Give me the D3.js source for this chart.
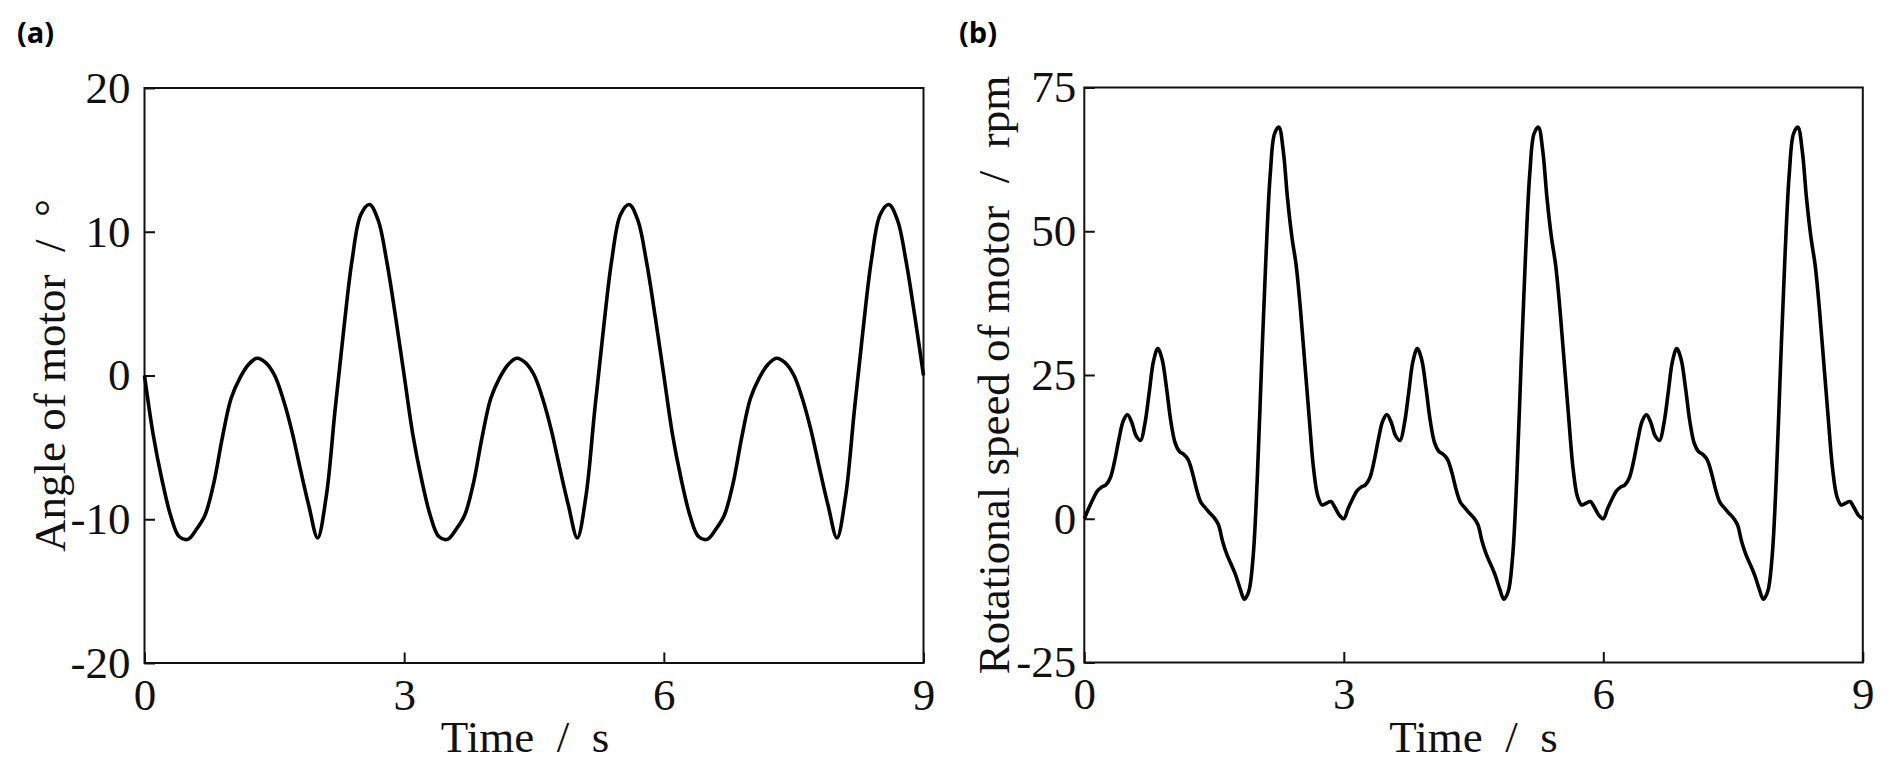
<!DOCTYPE html>
<html>
<head>
<meta charset="utf-8">
<script src="https://cdn.jsdelivr.net/npm/d3@7"></script>
<style>
  body { margin: 0; background: #fff; }
  text { font-family: "Liberation Serif", "Times New Roman", serif; }
</style>
</head>
<body>
<div id="root"></div>
<script>
// sample times (s)
const timeA = d3.range(91).map(i => +(i * 0.1).toFixed(2))
const timeB = d3.range(181).map(i => +(i * 0.05).toFixed(2))

// (a) angle of motor, deg, every 0.1 s
const angle = [
  0, -4.1, -7.2, -9.7, -11.2, -11.4, -10.7, -9.7, -7.5, -4.3,
  -1.6, -0.2, 0.75, 1.2, 0.9, 0.05, -1.6, -3.8, -6.5, -9.1,
  -11.3, -8.4, -2.5, 3.1, 8.1, 11.2, 11.9, 10.8, 7.9, 4.1,
  0, -4.1, -7.2, -9.7, -11.2, -11.4, -10.7, -9.7, -7.5, -4.3,
  -1.6, -0.2, 0.75, 1.2, 0.9, 0.05, -1.6, -3.8, -6.5, -9.1,
  -11.3, -8.4, -2.5, 3.1, 8.1, 11.2, 11.9, 10.8, 7.9, 4.1,
  0, -4.1, -7.2, -9.7, -11.2, -11.4, -10.7, -9.7, -7.5, -4.3,
  -1.6, -0.2, 0.75, 1.2, 0.9, 0.05, -1.6, -3.8, -6.5, -9.1,
  -11.3, -8.4, -2.5, 3.1, 8.1, 11.2, 11.9, 10.8, 7.9, 4.1,
  0
]

// (b) rotational speed of motor, rpm, every 0.05 s
const speed = [
  0, 1.8, 3.4, 4.8, 5.5, 5.9, 7.1, 10.0, 13.8, 17.0,
  18.1, 16.7, 14.4, 13.6, 16.5, 21.9, 27.4, 29.6, 27.7, 22.8,
  17.0, 13.2, 11.7, 11.2, 10.3, 8.0, 5.0, 2.8, 1.9, 1.0,
  0.2, -1.0, -4.0, -6.3, -8.0, -9.8, -12.1, -14.0, -12.7, -6.9,
  7.1, 27.0, 45.5, 60.0, 67.0, 68.1, 64.0, 55.6, 49.0, 44.0,
  36.2, 26.9, 17.6, 8.8, 3.9, 2.4, 2.7, 3.0, 1.9, 0.6,
  0, 1.8, 3.4, 4.8, 5.5, 5.9, 7.1, 10.0, 13.8, 17.0,
  18.1, 16.7, 14.4, 13.6, 16.5, 21.9, 27.4, 29.6, 27.7, 22.8,
  17.0, 13.2, 11.7, 11.2, 10.3, 8.0, 5.0, 2.8, 1.9, 1.0,
  0.2, -1.0, -4.0, -6.3, -8.0, -9.8, -12.1, -14.0, -12.7, -6.9,
  7.1, 27.0, 45.5, 60.0, 67.0, 68.1, 64.0, 55.6, 49.0, 44.0,
  36.2, 26.9, 17.6, 8.8, 3.9, 2.4, 2.7, 3.0, 1.9, 0.6,
  0, 1.8, 3.4, 4.8, 5.5, 5.9, 7.1, 10.0, 13.8, 17.0,
  18.1, 16.7, 14.4, 13.6, 16.5, 21.9, 27.4, 29.6, 27.7, 22.8,
  17.0, 13.2, 11.7, 11.2, 10.3, 8.0, 5.0, 2.8, 1.9, 1.0,
  0.2, -1.0, -4.0, -6.3, -8.0, -9.8, -12.1, -14.0, -12.7, -6.9,
  7.1, 27.0, 45.5, 60.0, 67.0, 68.1, 64.0, 55.6, 49.0, 44.0,
  36.2, 26.9, 17.6, 8.8, 3.9, 2.4, 2.7, 3.0, 1.9, 0.6,
  0
]

const xTicks = [0, 3, 6, 9]
const yTicksA = [-20, -10, 0, 10, 20]
const yTicksB = [-25, 0, 25, 50, 75]

const W = 1892, H = 776

const svg = d3.select("#root").append("svg")
    .attr("width", W)
    .attr("height", H)
    .style("display", "block")

svg.append("rect").attr("width", W).attr("height", H).attr("fill", "#fff")

const panels = [
    {
        tag: "(a)", tagX: 17,
        left: 144.5, top: 88, w: 779, h: 575,
        time: timeA, values: angle,
        yDomain: [-20, 20], yTicks: yTicksA,
        yPad: 14, yLabelX: 65, xLabelShift: -9,
        yLabel: "Angle of motor\u2002/\u2002°"
    },
    {
        tag: "(b)", tagX: 959,
        left: 1084.3, top: 87.5, w: 778.5, h: 575,
        time: timeB, values: speed,
        yDomain: [-25, 75], yTicks: yTicksB,
        yPad: 8, yLabelX: 1009, xLabelShift: 0,
        yLabel: "Rotational speed of motor\u2002/\u2002rpm"
    }
]

// plain hyphen for negatives, like the original figure
const fmt = d => String(d)

panels.forEach(p => {
    const x = d3.scaleLinear().domain([0, 9]).range([0, p.w])
    const y = d3.scaleLinear().domain(p.yDomain).range([p.h, 0])

    svg.append("text")
        .attr("x", p.tagX)
        .attr("y", 43)
        .style("font-family", "'Open Sans', 'Noto Sans', sans-serif")
        .attr("font-weight", "700")
        .attr("font-size", 29)
        .text(p.tag)

    const g = svg.append("g")
        .attr("transform", `translate(${p.left} ${p.top})`)

    const xAxis = g.append("g")
        .attr("transform", `translate(0 ${p.h})`)
        .call(d3.axisBottom(x).tickValues(xTicks).tickFormat(fmt)
            .tickSizeInner(-10.5).tickSizeOuter(0).tickPadding(15))
    const yAxis = g.append("g")
        .call(d3.axisLeft(y).tickValues(p.yTicks).tickFormat(fmt)
            .tickSizeInner(-10.5).tickSizeOuter(0).tickPadding(p.yPad))

    ;[xAxis, yAxis].forEach(a => {
        a.select(".domain").remove()
        a.selectAll("line").attr("stroke", "#111").attr("stroke-width", 2)
        a.selectAll("text")
            .attr("fill", "#111")
            .attr("font-size", 45)
            .style("font-family", "'Liberation Serif', serif")
    })

    // frame
    g.append("rect")
        .attr("width", p.w)
        .attr("height", p.h)
        .attr("fill", "none")
        .attr("stroke", "#111")
        .attr("stroke-width", 2)

    const line = d3.line()
        .x((d, i) => x(p.time[i]))
        .y(d => y(d))
        .curve(d3.curveCatmullRom.alpha(0.5))

    g.append("path")
        .datum(p.values)
        .attr("d", line)
        .attr("fill", "none")
        .attr("stroke", "#000")
        .attr("stroke-width", 3.6)
        .attr("stroke-linejoin", "round")

    // axis titles
    svg.append("text")
        .attr("x", p.left + p.w / 2 + p.xLabelShift)
        .attr("y", 752)
        .attr("text-anchor", "middle")
        .attr("font-size", 45)
        .attr("fill", "#111")
        .text("Time\u2002/\u2002s")

    svg.append("text")
        .attr("transform", `translate(${p.yLabelX} ${p.top + p.h / 2}) rotate(-90)`)
        .attr("text-anchor", "middle")
        .attr("font-size", 45)
        .attr("fill", "#111")
        .text(p.yLabel)
})
</script>
</body>
</html>
